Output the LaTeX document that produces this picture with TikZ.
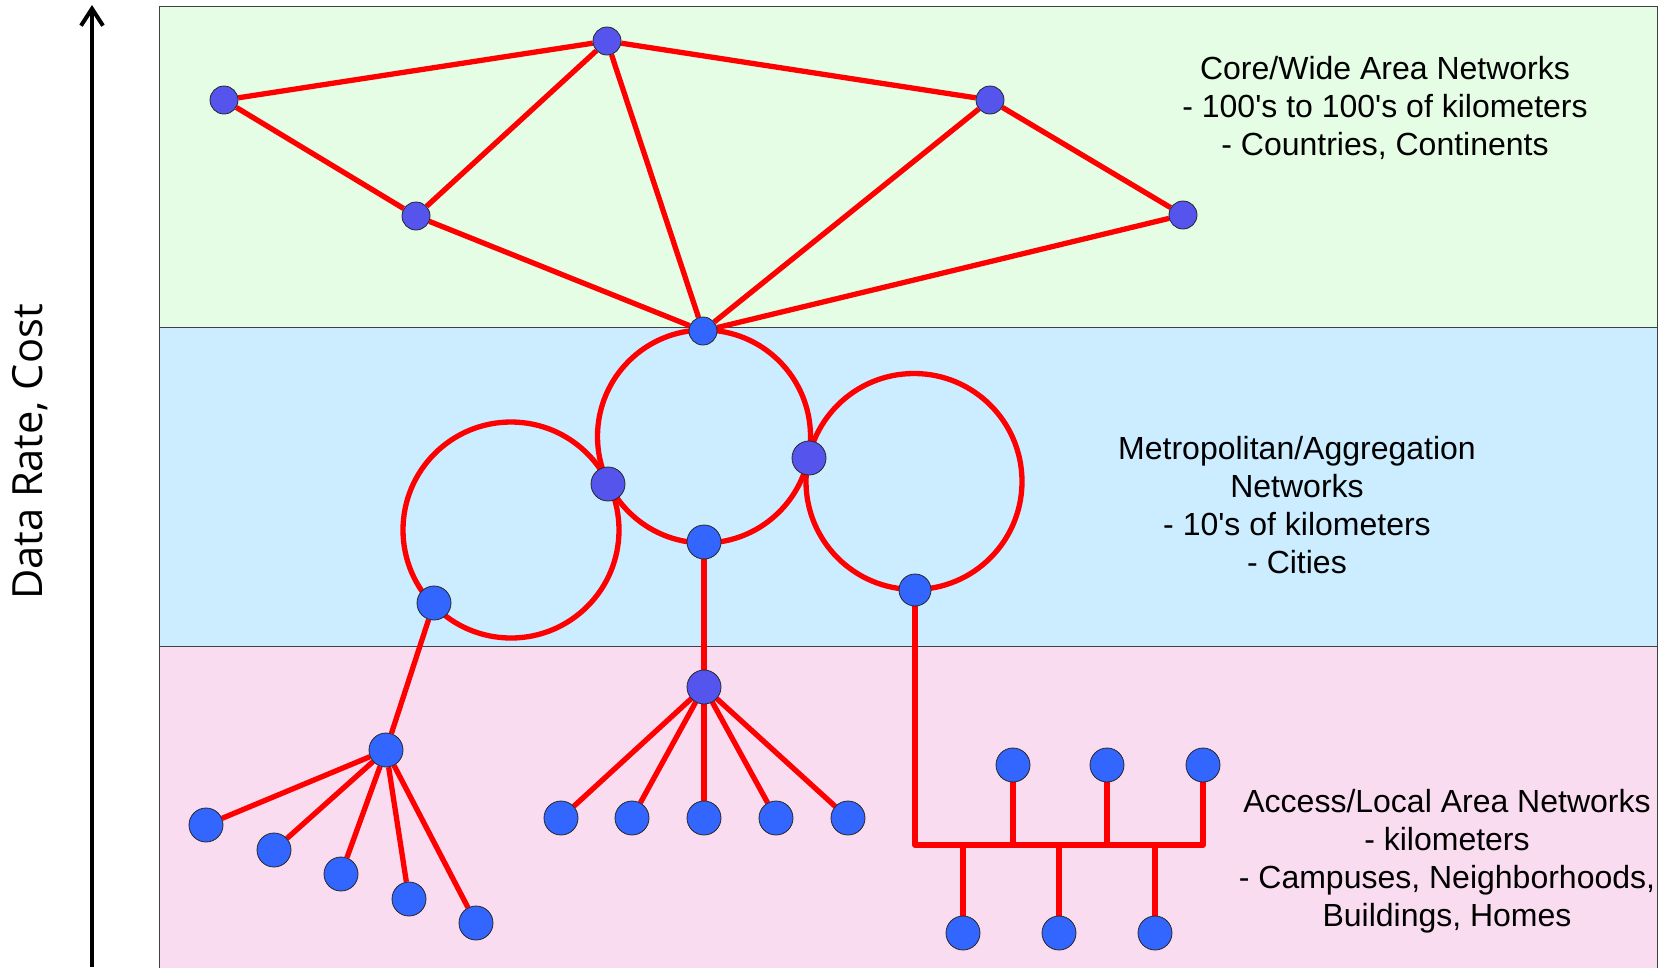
\documentclass[tikz,border=0pt]{standalone}
\usepackage{fontspec}
\setmainfont{Liberation Sans}
\newfontfamily\axisfont{Open Sans}
\usetikzlibrary{arrows.meta}
\pgfdeclarelayer{bg}
\pgfdeclarelayer{edges}
\pgfsetlayers{bg,edges,main}
\definecolor{greenbg}{HTML}{E5FCE5}
\definecolor{bluebg}{HTML}{CCECFF}
\definecolor{pinkbg}{HTML}{FADCF0}
\definecolor{nodeblue}{HTML}{3366FF}
\definecolor{nodepurple}{HTML}{5555EE}
\begin{document}
\begin{tikzpicture}[x=1pt,y=-1pt,
  panel/.style={draw=black!75, line width=0.8pt},
  link/.style={draw=red, line width=5.3pt, line join=round},
  bnode/.style={circle, draw=black!85, line width=0.8pt, fill=nodeblue, minimum size=34pt, inner sep=0pt},
  pnode/.style={bnode, fill=nodepurple},
  snode/.style={bnode, fill=nodepurple, minimum size=28pt},
  sbnode/.style={bnode, minimum size=28pt},
  desc/.style={font=\fontsize{32}{38}\selectfont, align=center, anchor=base, inner sep=0pt}
]
\useasboundingbox (0,0) rectangle (1660,967);
% panels
\begin{pgfonlayer}{bg}
\fill[white] (0,0) rectangle (1660,967);
\filldraw[panel, fill=greenbg] (159,6) rectangle (1657,327);
\filldraw[panel, fill=bluebg] (159,327) rectangle (1657,646);
\filldraw[panel, fill=pinkbg] (159,646) rectangle (1657,980);
\end{pgfonlayer}

% axis
\coordinate (axB) at (92,967);
\coordinate (axT) at (92,5);
\draw[line width=4pt, -{Straight Barb[length=17pt,width=22pt]}] (axB) -- (axT);
\node[rotate=90, font=\axisfont\fontsize{41.6}{48}\selectfont] (axlabel) at (30,452) {Data Rate, Cost};

% core nodes
\node[snode] (A) at (224,100) {};
\node[snode] (B) at (607,41) {};
\node[snode] (C) at (990,100) {};
\node[snode] (D) at (416,216) {};
\node[snode] (E) at (1183,215) {};
\node[sbnode] (F) at (703,331) {};

% metro nodes
\node[bnode] (G) at (704,542) {};
\node[pnode] (H) at (608,484) {};
\node[pnode] (I) at (809,458) {};
\node[bnode] (J) at (434,603) {};
\node[bnode, minimum size=32pt] (K) at (915,590) {};

% access: tree 1
\node[bnode] (L) at (386,750) {};
\node[bnode] (L1) at (206,825) {};
\node[bnode] (L2) at (274,850) {};
\node[bnode] (L3) at (341,874) {};
\node[bnode] (L4) at (409,899) {};
\node[bnode] (L5) at (476,923) {};
% access: tree 2
\node[pnode] (M) at (704,687) {};
\node[bnode] (M1) at (561,818) {};
\node[bnode] (M2) at (632,818) {};
\node[bnode] (M3) at (704,818) {};
\node[bnode] (M4) at (776,818) {};
\node[bnode] (M5) at (848,818) {};
% access: bus
\node[bnode] (T1) at (1013,765) {};
\node[bnode] (T2) at (1107,765) {};
\node[bnode] (T3) at (1203,765) {};
\node[bnode] (U1) at (963,933) {};
\node[bnode] (U2) at (1059,933) {};
\node[bnode] (U3) at (1155,933) {};
\coordinate (busL) at (915,845);
\coordinate (busR) at (1203,845);

\begin{pgfonlayer}{edges}
% core links
\draw[link] (A) -- (B);
\draw[link] (A) -- (D);
\draw[link] (D) -- (B);
\draw[link] (B) -- (C);
\draw[link] (C) -- (E);
\draw[link] (D) -- (F);
\draw[link] (B) -- (F);
\draw[link] (C) -- (F);
\draw[link] (E) -- (F);
% rings
\draw[link] (704,436.5) circle[radius=106.5pt];
\draw[link] (511,530) circle[radius=108pt];
\draw[link] (914,481.5) circle[radius=108pt];
% trees
\draw[link] (J) -- (L);
\foreach \n in {L1,L2,L3,L4,L5} \draw[link] (L) -- (\n);
\draw[link] (G) -- (M);
\foreach \n in {M1,M2,M3,M4,M5} \draw[link] (M) -- (\n);
% bus
\draw[link] (K) -- (busL) -- (busR) -- (T3);
\foreach \n in {T1,T2,U1,U2,U3} \draw[link] (\n) -- (\n |- busL);
\end{pgfonlayer}

% texts (anchor = baseline of last line)
\node[desc] (coretext) at (1385,155) {Core/Wide Area Networks\\- 100\textquotesingle s to 100\textquotesingle s of kilometers\\- Countries, Continents};
\node[desc] (metrotext) at (1297,573) {Metropolitan/Aggregation\\Networks\\- 10\textquotesingle s of kilometers\\- Cities};
\node[desc] (accesstext) at (1447,926) {Access/Local Area Networks\\- kilometers\\- Campuses, Neighborhoods,\\Buildings, Homes};
\end{tikzpicture}
\end{document}
